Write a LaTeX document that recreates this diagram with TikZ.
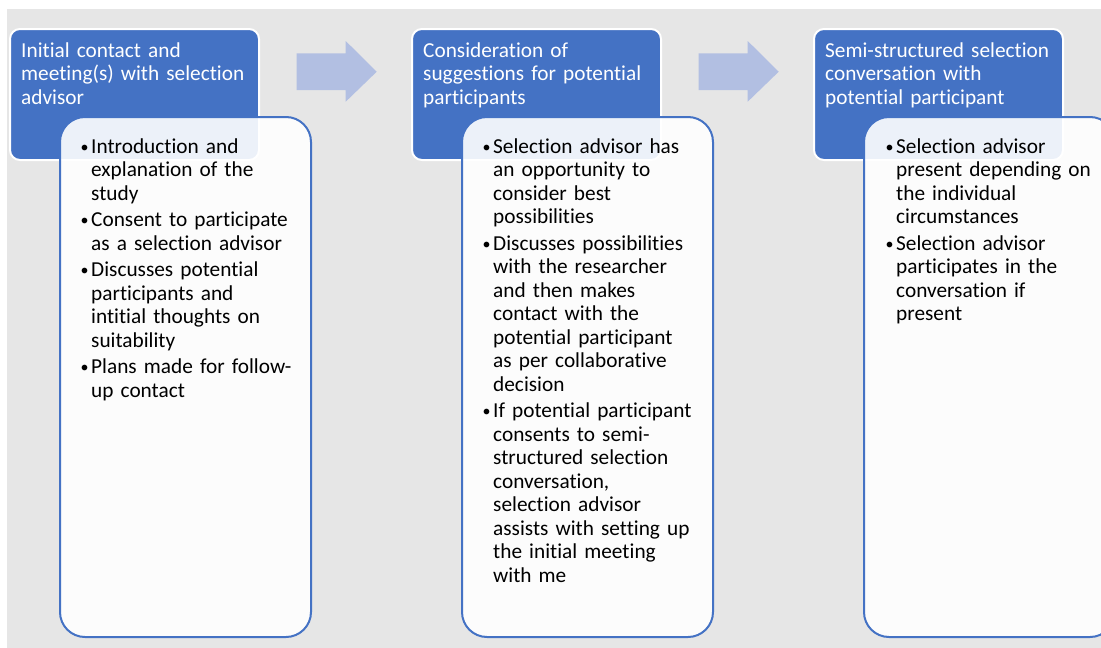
\documentclass[tikz,border=0pt]{standalone}
\usepackage{fontspec}
\setmainfont{Carlito}[Ligatures=NoCommon]
\definecolor{accent}{HTML}{4472C4}
\definecolor{arrowfill}{RGB}{178,191,226}
\definecolor{canvas}{HTML}{E6E6E6}
% one bulleted entry with a hanging indent; lines inside it break with \newline
\newcommand\bulletentry[1]{\noindent\hangindent=12pt\hangafter=1
  \makebox[12pt][l]{\kern1.5pt\raisebox{0.6pt}{\fontsize{16}{16}\selectfont\textbullet}}#1\par}
\tikzset{
  stagehead/.style={draw=white, line width=2pt, fill=accent, rounded corners=10pt,
    minimum width=249pt, minimum height=131pt, anchor=north west, inner sep=0pt},
  stagebody/.style={draw=accent, line width=2pt, fill=white, fill opacity=0.9,
    rounded corners=25pt, minimum width=251pt, minimum height=520pt,
    anchor=north west, inner sep=0pt},
  headtext/.style={text=white, anchor=base west, inner sep=0pt, text width=232pt,
    align=left, font=\fontsize{21.3}{23.8}\selectfont},
  bodytext/.style={text=black, anchor=base west, inner sep=0pt, text width=228pt,
    font=\fontsize{21.3}{23.5}\selectfont\setlength\parskip{3pt}\raggedright},
  flowarrow/.style={fill=arrowfill}
}
\begin{document}
\begin{tikzpicture}[x=1pt,y=-1pt]
\useasboundingbox (0,0) rectangle (1101,648);
\clip (0,0) rectangle (1101,648);
\fill[canvas] (7,9) rectangle (1101,648);

% stage headers
\node[stagehead] (h1) at (9,28) {};
\node[stagehead] (h2) at (411,28) {};
\node[stagehead] (h3) at (813,28) {};

% arrows between the stages
\foreach \dx in {0,402}{
  \begin{scope}[xshift=\dx pt]
    \fill[flowarrow] (296.7,53.3) -- (345.7,53.3) -- (345.7,41) -- (376.7,71.7)
      -- (345.7,101.7) -- (345.7,90) -- (296.7,90) -- cycle;
  \end{scope}
}

% header captions
\node[headtext] (t1) at (21,57) {Initial contact and\\ meeting(s) with selection\\ advisor};
\node[headtext] (t2) at (423,57) {Consideration of\\ suggestions for potential\\ participants};
\node[headtext] (t3) at (825,57) {Semi-structured selection\\ conversation with\\ potential participant};

% detail panels
\node[stagebody] (b1) at (59,116) {};
\node[stagebody] (b2) at (461,116) {};
\node[stagebody] (b3) at (863,116) {};

% detail text
\node[bodytext] (d1) at (79,153) {%
\bulletentry{Introduction and\newline explanation of the\newline study}%
\bulletentry{Consent to participate\newline as a selection advisor}%
\bulletentry{Discusses potential\newline participants and\newline intitial thoughts on\newline suitability}%
\bulletentry{Plans made for follow-\newline up contact}};

\node[bodytext] (d2) at (481,153) {%
\bulletentry{Selection advisor has\newline an opportunity to\newline consider best\newline possibilities}%
\bulletentry{Discusses possibilities\newline with the researcher\newline and then makes\newline contact with the\newline potential participant\newline as per collaborative\newline decision}%
\bulletentry{If potential participant\newline consents to semi-\newline structured selection\newline conversation,\newline selection advisor\newline assists with setting up\newline the initial meeting\newline with me}};

\node[bodytext] (d3) at (884,153) {%
\bulletentry{Selection advisor\newline present depending on\newline the individual\newline circumstances}%
\bulletentry{Selection advisor\newline participates in the\newline conversation if\newline present}};
\end{tikzpicture}
\end{document}
